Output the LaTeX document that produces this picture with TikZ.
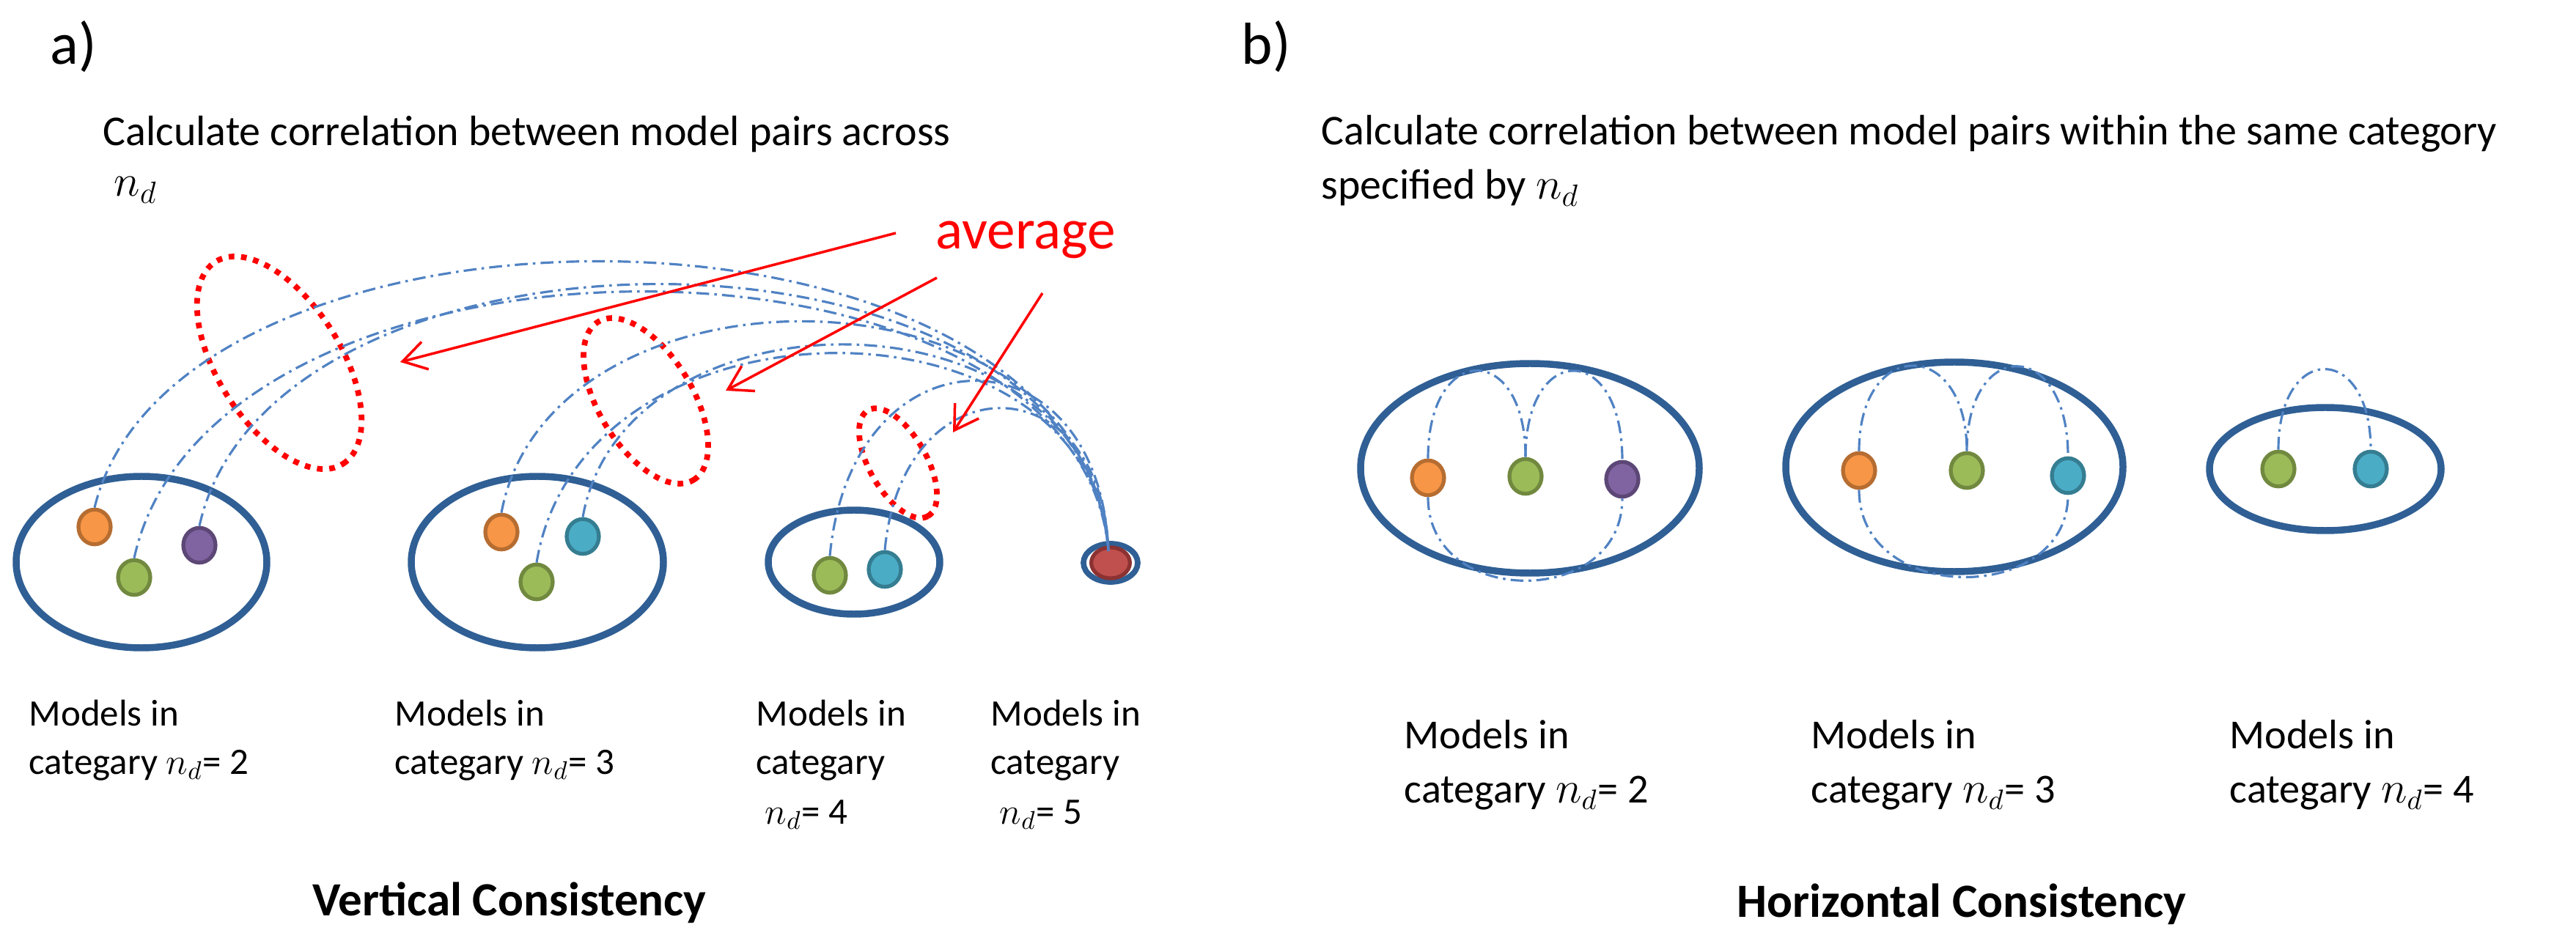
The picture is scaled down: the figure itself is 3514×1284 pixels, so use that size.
\documentclass[tikz,border=0pt]{standalone}
\usepackage{fontspec}
\setmainfont{Carlito}
\usetikzlibrary{shapes.geometric,arrows.meta}
\definecolor{eblue}{RGB}{47,95,148}
\definecolor{lblue}{RGB}{80,130,195}
\definecolor{ofill}{RGB}{247,150,70}\definecolor{oline}{RGB}{182,109,49}
\definecolor{gfill}{RGB}{155,187,89}\definecolor{gline}{RGB}{113,137,63}
\definecolor{pfill}{RGB}{128,100,162}\definecolor{pline}{RGB}{92,71,118}
\definecolor{tfill}{RGB}{75,172,198}\definecolor{tline}{RGB}{53,125,145}
\definecolor{rfill}{RGB}{192,80,77}\definecolor{rline}{RGB}{140,50,50}
\tikzset{
 grp/.style={ellipse,draw=eblue,line width=2.7pt,inner sep=0pt},
 dot/.style={ellipse,line width=1.5pt,minimum width=12.5pt,minimum height=13.5pt,inner sep=0pt},
 od/.style={dot,fill=ofill,draw=oline}, gd/.style={dot,fill=gfill,draw=gline},
 pd/.style={dot,fill=pfill,draw=pline}, td/.style={dot,fill=tfill,draw=tline},
 rd/.style={dot,fill=rfill,draw=rline,minimum width=15pt,minimum height=12pt},
 avg/.style={ellipse,draw=red,line width=2.2pt,dash pattern=on 2.2pt off 2.6pt,inner sep=0pt},
 arc/.style={draw=lblue,line width=0.9pt,dash pattern=on 5pt off 2pt on 1pt off 2pt},
 rarr/.style={draw=red,line width=1pt,-{Straight Barb[length=9pt,width=11pt]}},
 ttl/.style={anchor=base west,inner sep=0pt,font=\fontsize{16.5}{20}\selectfont},
 lab/.style={anchor=base west,inner sep=0pt,font=\fontsize{14.5}{17}\selectfont},
 labb/.style={anchor=base west,inner sep=0pt,font=\fontsize{16}{19}\selectfont},
 big/.style={anchor=base,inner sep=0pt,font=\fontsize{18.5}{22}\selectfont\bfseries},
 pan/.style={anchor=base west,inner sep=0pt,font=\fontsize{23}{26}\selectfont},
}
\begin{document}
\begin{tikzpicture}[x=0.1mm,y=-0.1mm]
\useasboundingbox (0,0) rectangle (3514,1284);
% panel a texts
\node[pan] (pa) at (68,88) {a)};
\node[ttl] (ta1) at (140,199) {Calculate correlation between model pairs across};
\node[ttl] (ta2) at (155,268) {$n_d$};
\node[anchor=base west,inner sep=0pt,text=red,font=\fontsize{22}{26}\selectfont] (avg) at (1276,340) {average};
% red dotted ellipses
\node[avg,minimum width=326*0.1mm,minimum height=168*0.1mm,rotate=-57.8] (e1) at (381,495) {};
\node[avg,minimum width=252*0.1mm,minimum height=128*0.1mm,rotate=-59] (e2) at (881,547) {};
\node[avg,minimum width=166*0.1mm,minimum height=78*0.1mm,rotate=-60.6] (e3) at (1225,632) {};
% groups
\node[grp,minimum width=342*0.1mm,minimum height=234*0.1mm] (b1) at (193,767) {};
\node[grp,minimum width=344*0.1mm,minimum height=234*0.1mm] (b2) at (733,767) {};
\node[grp,minimum width=234*0.1mm,minimum height=142*0.1mm] (b3) at (1165,767) {};
\node[grp,minimum width=74*0.1mm,minimum height=52*0.1mm,line width=2.2pt] (b4) at (1515,768) {};
\node[rd] (r) at (1515,768) {};
\node[od] (b1o) at (129,719) {};
\node[pd] (b1p) at (272,744) {};
\node[gd] (b1g) at (183,788) {};
\node[od] (b2o) at (684,726) {};
\node[td] (b2t) at (795,732) {};
\node[gd] (b2g) at (732,794) {};
\node[gd] (b3g) at (1132,785) {};
\node[td] (b3t) at (1207,777) {};
\coordinate (rt) at (1512,752);
% arcs
\draw[arc] (b1o.north) .. controls (240,235) and (1471,235) .. (rt);
\draw[arc] (b1p.north) .. controls (371,272) and (1475,272) .. (rt);
\draw[arc] (b1g.north) .. controls (289,278) and (1472,278) .. (rt);
\draw[arc] (b2o.north) .. controls (750,343) and (1487,343) .. (rt);
\draw[arc] (b2t.north) .. controls (852,384) and (1490,384) .. (rt);
\draw[arc] (b2g.north) .. controls (794,389) and (1489,389) .. (rt);
\draw[arc] (b3g.north) .. controls (1162,441) and (1500,441) .. (rt);
\draw[arc] (b3t.north) .. controls (1231,492) and (1503,492) .. (rt);
% arrows
\coordinate (a1) at (1222,318); \coordinate (a2) at (1278,379); \coordinate (a3) at (1422,400);
\coordinate (h1) at (546,494); \coordinate (h2) at (990,533); \coordinate (h3) at (1300,590);
\draw[rarr] (a1) -- (h1);
\draw[rarr] (a2) -- (h2);
\draw[rarr] (a3) -- (h3);
% labels a
\node[lab] (l1a) at (39,990) {Models in};
\node[lab] (l1b) at (39,1056) {categary $n_d$= 2};
\node[lab] (l2a) at (538,990) {Models in};
\node[lab] (l2b) at (538,1056) {categary $n_d$= 3};
\node[lab] (l3a) at (1031,990) {Models in};
\node[lab] (l3b) at (1031,1056) {categary};
\node[lab] (l3c) at (1043,1124) {$n_d$= 4};
\node[lab] (l4a) at (1351,990) {Models in};
\node[lab] (l4b) at (1351,1056) {categary};
\node[lab] (l4c) at (1363,1124) {$n_d$= 5};
\node[big] (vc) at (695,1249) {Vertical Consistency};
% panel b
\node[pan] (pb) at (1693,88) {b)};
\node[ttl] (tb1) at (1802,198) {Calculate correlation between model pairs within the same category};
\node[ttl] (tb2) at (1802,272) {specified by $n_d$};
\node[grp,minimum width=462*0.1mm,minimum height=286*0.1mm] (c1) at (2087,639) {};
\node[grp,minimum width=460*0.1mm,minimum height=286*0.1mm] (c2) at (2666,637) {};
\node[grp,minimum width=316*0.1mm,minimum height=168*0.1mm] (c3) at (3172,640) {};
\node[od] (c1o) at (1948,652) {};
\node[gd] (c1g) at (2081,650) {};
\node[pd] (c1p) at (2213,654) {};
\node[od] (c2o) at (2536,642) {};
\node[gd] (c2g) at (2683,642) {};
\node[td] (c2t) at (2821,649) {};
\node[gd] (c3g) at (3108,640) {};
\node[td] (c3t) at (3234,640) {};
\draw[arc] (c1o.north) .. controls (1948,466) and (2081,466) .. (c1g.north);
\draw[arc] (c1g.north) .. controls (2081,466) and (2213,466) .. (c1p.north);
\draw[arc] (c1o.south) .. controls (1948,830) and (2213,830) .. (c1p.south);
\draw[arc] (c2o.north) .. controls (2536,460) and (2683,460) .. (c2g.north);
\draw[arc] (c2g.north) .. controls (2683,460) and (2821,460) .. (c2t.north);
\draw[arc] (c2o.south) .. controls (2536,826) and (2821,826) .. (c2t.south);
\draw[arc] (c3g.north) .. controls (3108,467) and (3234,467) .. (c3t.north);
\node[labb] (m1a) at (1915,1021) {Models in};
\node[labb] (m1b) at (1915,1095) {categary $n_d$= 2};
\node[labb] (m2a) at (2470,1021) {Models in};
\node[labb] (m2b) at (2470,1095) {categary $n_d$= 3};
\node[labb] (m3a) at (3041,1021) {Models in};
\node[labb] (m3b) at (3041,1095) {categary $n_d$= 4};
\node[big] (hc) at (2676,1251) {Horizontal Consistency};
\end{tikzpicture}
\end{document}
